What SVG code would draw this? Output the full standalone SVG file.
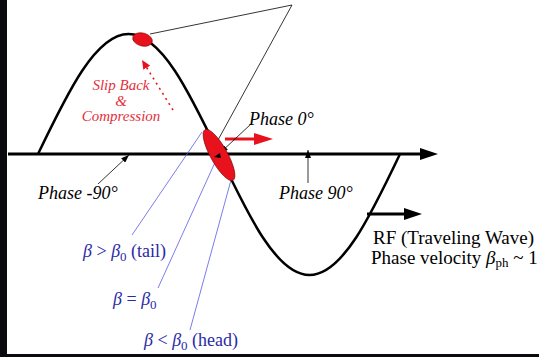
<svg xmlns="http://www.w3.org/2000/svg" width="539" height="357" viewBox="0 0 539 357">
<style>
text{font-family:'Liberation Serif','Times New Roman',Times,'DejaVu Serif',serif}
.lbl{font-style:italic;font-size:18px;fill:#000}
.rf{font-size:19px;fill:#000}
.red{font-style:italic;font-size:15px;fill:#e3303c}
.blue{font-size:18px;fill:#2a2aa8}
.bi{font-style:italic}
.sub{font-size:13px}
.thin{stroke:#000;stroke-width:0.8;fill:none}
.bl{stroke:#5a5ae6;stroke-width:0.8;fill:none}
.blob{fill:#e8121c;stroke:#700;stroke-width:0.6}
</style>
<defs>
<marker id="ahBig" markerWidth="18" markerHeight="12" refX="0" refY="6" orient="auto" markerUnits="userSpaceOnUse"><path d="M0,0 L18,6 L0,12 z" fill="#000"/></marker>
<marker id="ahRed" markerWidth="19" markerHeight="12" refX="0" refY="6" orient="auto" markerUnits="userSpaceOnUse"><path d="M0,0 L19,6 L0,12 z" fill="#e8121c"/></marker>
<marker id="ahSmall" markerWidth="8" markerHeight="6" refX="8" refY="3" orient="auto" markerUnits="userSpaceOnUse"><path d="M0,0 L8,3 L0,6 z" fill="#000"/></marker>
<marker id="ahRedSmall" markerWidth="9" markerHeight="8" refX="9" refY="4" orient="auto" markerUnits="userSpaceOnUse"><path d="M0,0 L9,4 L0,8 z" fill="#e8121c"/></marker>
</defs>
<rect width="539" height="357" fill="#fff"/>
<rect x="0" y="0" width="7" height="357" fill="#0a0a0f"/>
<rect x="0" y="354" width="539" height="3" fill="#0a0a0f"/>

<g id="wave">
<path d="M38,154 C67.5,92.5 95.7,34 128.5,34 C161.3,34 189.5,92.5 219,154 C248.5,216 276.7,275 309.5,275 C342.3,275 370.5,216 400,154" fill="none" stroke="#000" stroke-width="2.5"/>
</g>

<g id="connectors">
<line x1="8" y1="154" x2="420" y2="154" stroke="#000" stroke-width="3" marker-end="url(#ahBig)"/>
<line x1="367" y1="214" x2="404" y2="214" stroke="#000" stroke-width="3" marker-end="url(#ahBig)"/>
<line x1="225" y1="139" x2="254" y2="139" stroke="#e8121c" stroke-width="3" marker-end="url(#ahRed)"/>
<line x1="173" y1="110" x2="142" y2="60" stroke="#e8121c" stroke-width="1.6" stroke-dasharray="2,4" marker-end="url(#ahRedSmall)"/>
<polyline class="thin" points="150,34 292,5 218,140"/>
<line class="thin" x1="98" y1="184" x2="129" y2="155" marker-end="url(#ahSmall)"/>
<line class="thin" x1="308" y1="183" x2="308" y2="150" marker-end="url(#ahSmall)"/>
<line class="thin" x1="251" y1="124" x2="220" y2="153" marker-end="url(#ahSmall)"/>
<line class="bl" x1="202" y1="132" x2="132" y2="235"/>
<line class="bl" x1="217" y1="158" x2="158" y2="288"/>
<line class="bl" x1="231" y1="180" x2="190" y2="330"/>
</g>

<g id="bunch-peak">
<ellipse class="blob" cx="142.5" cy="39.5" rx="10" ry="6.5" transform="rotate(15 142.5 39.5)"/>
</g>
<g id="bunch-phase0">
<ellipse class="blob" cx="219" cy="155" rx="29" ry="8.5" transform="rotate(61 219 155)"/>
<polygon points="220,153 214,157 221,158" fill="#000"/>
</g>

<g id="label-phase0"><text class="lbl" x="249" y="125">Phase 0°</text></g>
<g id="label-phase-90"><text class="lbl" x="38" y="199">Phase -90°</text></g>
<g id="label-phase90"><text class="lbl" x="279" y="199">Phase 90°</text></g>

<g id="label-slip">
<text class="red" x="121" y="90" text-anchor="middle">Slip Back</text>
<text class="red" x="121" y="106" text-anchor="middle">&amp;</text>
<text class="red" x="121" y="121" text-anchor="middle">Compression</text>
</g>

<g id="label-rf">
<text class="rf" x="373" y="244">RF (Traveling Wave)</text>
<text class="rf" x="371" y="264">Phase velocity <tspan class="bi">β</tspan><tspan class="sub" dy="3">ph</tspan><tspan dy="-3"> ~ 1</tspan></text>
</g>

<g id="label-tail"><text class="blue" x="83" y="257"><tspan class="bi">β</tspan> &gt; <tspan class="bi">β</tspan><tspan class="sub" dy="4">0</tspan><tspan dy="-4"> (tail)</tspan></text></g>
<g id="label-eq"><text class="blue" x="113" y="305"><tspan class="bi">β</tspan> = <tspan class="bi">β</tspan><tspan class="sub" dy="4">0</tspan></text></g>
<g id="label-head"><text class="blue" x="144" y="346"><tspan class="bi">β</tspan> &lt; <tspan class="bi">β</tspan><tspan class="sub" dy="4">0</tspan><tspan dy="-4"> (head)</tspan></text></g>
</svg>
